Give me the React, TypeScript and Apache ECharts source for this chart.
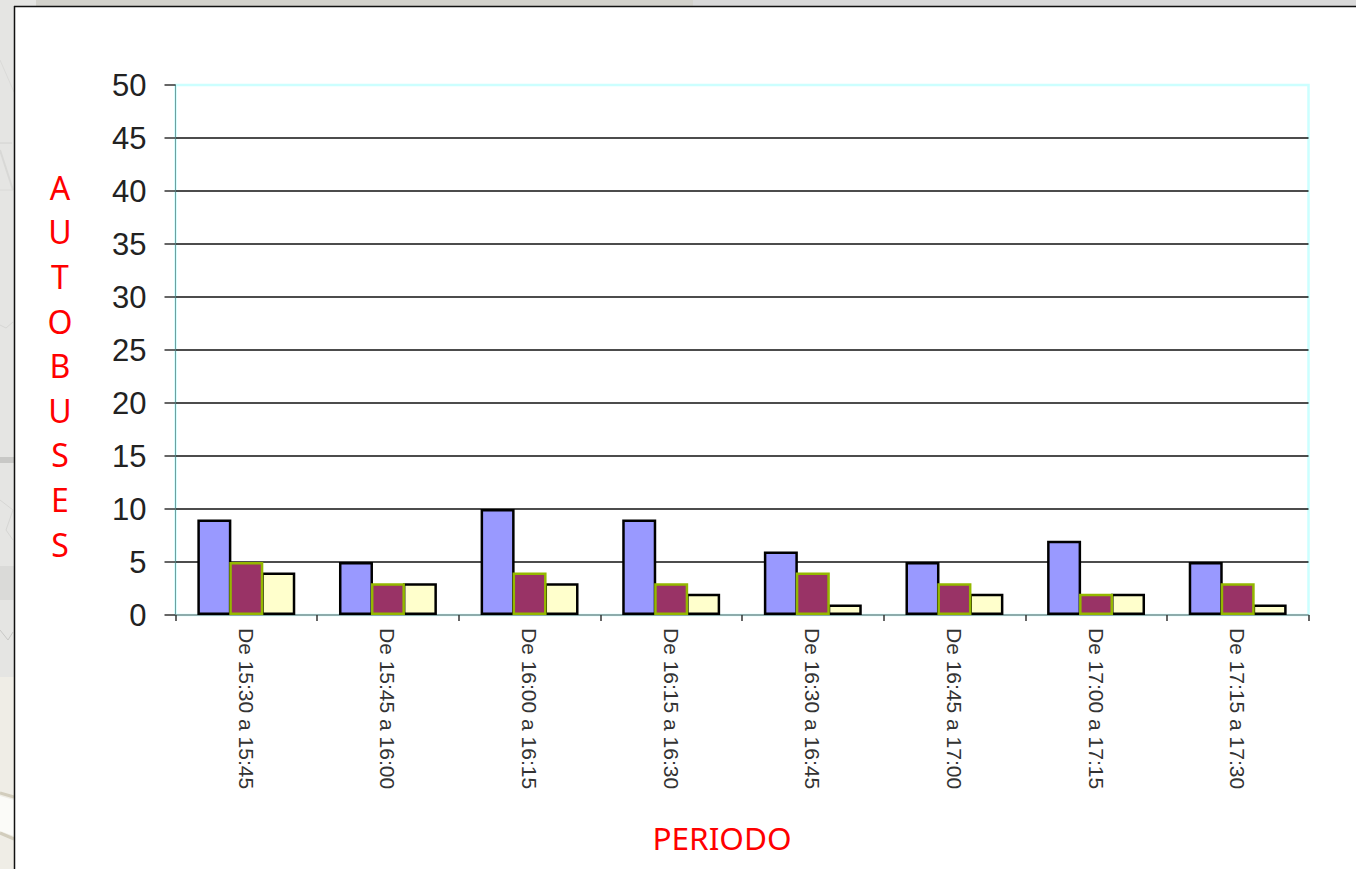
import React, { useEffect, useRef } from "react";
import * as echarts from "echarts";

const categories = [
  "De 15:30 a 15:45",
  "De 15:45 a 16:00",
  "De 16:00 a 16:15",
  "De 16:15 a 16:30",
  "De 16:30 a 16:45",
  "De 16:45 a 17:00",
  "De 17:00 a 17:15",
  "De 17:15 a 17:30",
];
const seriesA = [9, 5, 10, 9, 6, 5, 7, 5];
const seriesB = [5, 3, 4, 3, 4, 3, 2, 3];
const seriesC = [4, 3, 3, 2, 1, 2, 2, 1];
const yTitle = "A\nU\nT\nO\nB\nU\nS\nE\nS";
const xTitle = "PERIODO";

const bar = (data: number[], color: string, border: string, z: number) => ({
  type: "bar",
  data,
  barWidth: 34,
  barGap: "-6%",
  z,
  itemStyle: { color, borderColor: border, borderWidth: 2.5 },
});

const rect = (x: number, y: number, width: number, height: number, fill: string) => ({
  type: "rect",
  silent: true,
  z: 0,
  shape: { x, y, width, height },
  style: { fill },
});
const scratch = (points: number[][], stroke: string, lineWidth = 1) => ({
  type: "polyline",
  silent: true,
  z: 0,
  shape: { points },
  style: { stroke, lineWidth, fill: "none" },
});

export default function App() {
  const ref = useRef<HTMLDivElement>(null);
  useEffect(() => {
    document.body.style.margin = "0";
    document.body.style.background = "#fff";
    const chart = echarts.init(ref.current!, undefined, { renderer: "svg" });
    chart.setOption({
      animation: false,
      backgroundColor: "#ffffff",
      grid: {
        left: 175.5,
        top: 85,
        width: 1133,
        height: 530,
        show: true,
        borderColor: "#ccffff",
        borderWidth: 2.5,
        backgroundColor: "transparent",
      },
      xAxis: {
        type: "category",
        data: categories,
        axisLine: { lineStyle: { color: "#a4c8c8", width: 1.5 } },
        axisTick: { show: true, length: 6, lineStyle: { color: "#333", width: 1.5 } },
        axisLabel: {
          interval: 0,
          rotate: -90,
          margin: 13,
          fontFamily: "Liberation Sans",
          fontSize: 21,
          color: "#333",
        },
      },
      yAxis: {
        type: "value",
        min: 0,
        max: 50,
        interval: 5,
        axisLine: { show: true, lineStyle: { color: "#6f9f9f", width: 1 } },
        axisTick: { show: true, length: 11, lineStyle: { color: "#333", width: 1.5 } },
        axisLabel: { margin: 29, fontFamily: "Liberation Sans", fontSize: 31, color: "#222" },
        splitLine: {
          show: true,
          lineStyle: {
            width: 1.5,
            color: ["#222", "#111", "#111", "#111", "#111", "#111", "#111", "#111", "#111", "#111", "transparent"],
          },
        },
      },
      series: [
        bar(seriesA, "#9999ff", "#000000", 2),
        bar(seriesB, "#993366", "#94b800", 3),
        bar(seriesC, "#ffffcc", "#000000", 2),
      ],
      graphic: [
        rect(0, 0, 14, 677, "#e5e5e3"),
        rect(0, 677, 14, 192, "#efede6"),
        rect(0, 0, 36, 6, "#e5e5e3"),
        rect(36, 0, 657, 6, "#d3d2cc"),
        rect(693, 0, 663, 6, "#d9d9d9"),
        rect(0, 566, 14, 34, "#dadad8"),
        rect(0, 457, 14, 6, "#c8c8c6"),
        scratch([[0, 60], [14, 92]], "#dadad8"),
        scratch([[0, 143], [12, 143]], "#d2d2d0"),
        scratch([[0, 150], [13, 190]], "#d8d8d6", 2),
        scratch([[0, 190], [13, 190]], "#dadad8"),
        scratch([[0, 325], [6, 328], [13, 322]], "#d6d6d4"),
        scratch([[0, 500], [13, 510], [6, 530], [13, 540]], "#d6d6d4"),
        scratch([[0, 630], [8, 640], [13, 632]], "#c8c8c6"),
        scratch([[0, 793], [14, 797]], "#d2cdbd", 3),
        scratch([[0, 833], [14, 839]], "#d2cdbd", 3),
        { type: "polygon", silent: true, z: 0, shape: { points: [[0, 796], [14, 800], [14, 836], [0, 831]] }, style: { fill: "#fbfbf8" } },
        { type: "line", silent: true, z: 1, shape: { x1: 14.5, y1: 6, x2: 14.5, y2: 869 }, style: { stroke: "#111", lineWidth: 1.5 } },
        { type: "line", silent: true, z: 1, shape: { x1: 14, y1: 6.5, x2: 1356, y2: 6.5 }, style: { stroke: "#111", lineWidth: 1.5 } },
        {
          type: "text",
          silent: true,
          x: 60,
          y: 165,
          style: { text: yTitle, fill: "#ff0000", font: "32px 'Noto Sans'", lineHeight: 44.6, align: "center" },
        },
        {
          type: "text",
          silent: true,
          x: 722,
          y: 821,
          style: { text: xTitle, fill: "#ff0000", font: "31.5px 'Noto Sans'", align: "center" },
        },
      ],
    });
    return () => chart.dispose();
  }, []);
  return <div ref={ref} style={{ width: 1356, height: 869 }} />;
}
